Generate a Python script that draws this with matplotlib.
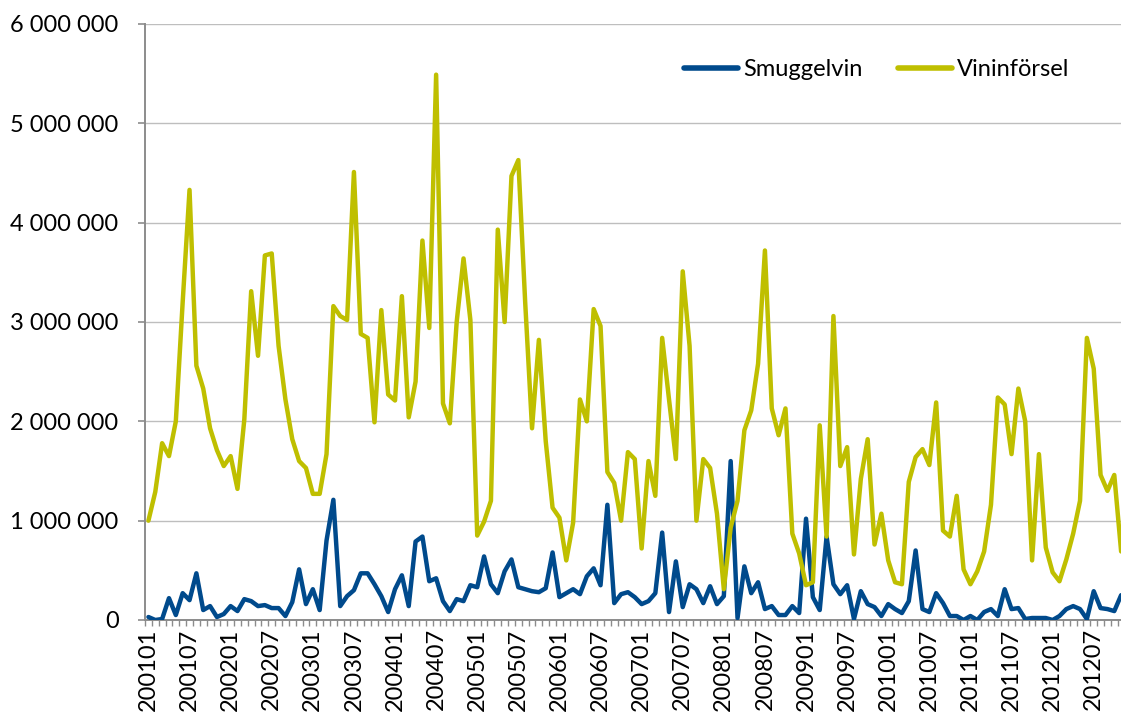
import matplotlib
matplotlib.use("Agg")
import matplotlib.pyplot as plt
from matplotlib.ticker import FuncFormatter, FixedLocator

plt.rcParams['font.family'] = ['Lato', 'DejaVu Sans']

# Monthly periods 200101 .. 201211
months = [f"{y}{m:02d}" for y in range(2001, 2013) for m in range(1, 13)][:143]

# Values in millions (litres)
smuggelvin = [
    0.03, 0.00, 0.01, 0.22, 0.05, 0.27, 0.20, 0.47, 0.10, 0.14, 0.03, 0.06,
    0.14, 0.09, 0.21, 0.19, 0.14, 0.15, 0.12, 0.12, 0.04, 0.18, 0.51, 0.16,
    0.31, 0.10, 0.80, 1.21, 0.14, 0.24, 0.30, 0.47, 0.47, 0.36, 0.24, 0.08,
    0.31, 0.45, 0.14, 0.79, 0.84, 0.39, 0.42, 0.19, 0.09, 0.21, 0.19, 0.35,
    0.33, 0.64, 0.36, 0.27, 0.49, 0.61, 0.33, 0.31, 0.29, 0.28, 0.32, 0.68,
    0.23, 0.27, 0.31, 0.26, 0.44, 0.52, 0.35, 1.16, 0.17, 0.26, 0.28, 0.23,
    0.16, 0.19, 0.27, 0.88, 0.08, 0.59, 0.13, 0.36, 0.31, 0.17, 0.34, 0.16,
    0.24, 1.60, 0.02, 0.54, 0.27, 0.38, 0.11, 0.14, 0.05, 0.05, 0.14, 0.07,
    1.02, 0.23, 0.10, 0.84, 0.36, 0.26, 0.35, 0.01, 0.29, 0.16, 0.13, 0.04,
    0.16, 0.11, 0.07, 0.19, 0.70, 0.11, 0.08, 0.27, 0.17, 0.04, 0.04, 0.00,
    0.04, 0.00, 0.08, 0.11, 0.04, 0.31, 0.11, 0.12, 0.01, 0.02, 0.02, 0.02,
    0.00, 0.04, 0.11, 0.14, 0.11, 0.01, 0.29, 0.12, 0.11, 0.09, 0.25,
]

vininforsel = [
    1.00, 1.29, 1.78, 1.65, 2.00, 3.20, 4.33, 2.56, 2.33, 1.93, 1.71, 1.55,
    1.65, 1.32, 2.02, 3.31, 2.66, 3.67, 3.69, 2.76, 2.22, 1.82, 1.60, 1.53,
    1.27, 1.27, 1.67, 3.16, 3.06, 3.02, 4.51, 2.88, 2.84, 1.99, 3.12, 2.27,
    2.21, 3.26, 2.04, 2.40, 3.82, 2.94, 5.49, 2.18, 1.98, 3.00, 3.64, 3.02,
    0.85, 0.99, 1.20, 3.93, 3.00, 4.47, 4.63, 3.20, 1.93, 2.82, 1.80, 1.13,
    1.03, 0.60, 0.98, 2.22, 2.00, 3.13, 2.96, 1.49, 1.38, 1.00, 1.69, 1.62,
    0.72, 1.60, 1.25, 2.84, 2.22, 1.62, 3.51, 2.76, 1.00, 1.62, 1.53, 1.07,
    0.31, 0.93, 1.20, 1.91, 2.11, 2.58, 3.72, 2.13, 1.86, 2.13, 0.87, 0.67,
    0.35, 0.38, 1.96, 0.84, 3.06, 1.55, 1.74, 0.66, 1.42, 1.82, 0.76, 1.07,
    0.60, 0.38, 0.36, 1.39, 1.64, 1.72, 1.56, 2.19, 0.90, 0.84, 1.25, 0.51,
    0.36, 0.49, 0.69, 1.16, 2.24, 2.17, 1.67, 2.33, 2.00, 0.60, 1.67, 0.73,
    0.48, 0.39, 0.61, 0.87, 1.20, 2.84, 2.53, 1.46, 1.30, 1.46, 0.69,
]

series_names = ["Smuggelvin", "Vininförsel"]
y_ticks = [0, 1e6, 2e6, 3e6, 4e6, 5e6, 6e6]

W, H = 1121, 718
fig = plt.figure(figsize=(W / 100, H / 100), dpi=100)
fig.patch.set_facecolor("white")

left_px, right_px = 145, 145 + 143 * 6.85
bottom_px, top_px = 620, 24
ax = fig.add_axes([left_px / W, 1 - bottom_px / H,
                   (right_px - left_px) / W, (bottom_px - top_px) / H])

x = list(range(len(months)))
blue = "#004A8C"
yellow = "#BFBF00"
ax.plot(x, [v * 1e6 for v in smuggelvin], color=blue, lw=3.2,
        solid_joinstyle="round", solid_capstyle="round", label=series_names[0], zorder=3)
ax.plot(x, [v * 1e6 for v in vininforsel], color=yellow, lw=3.2,
        solid_joinstyle="round", solid_capstyle="round", label=series_names[1], zorder=4)

ax.set_xlim(-0.5, len(months) - 0.5)
ax.set_ylim(0, 6e6)
ax.set_yticks(y_ticks)
ax.yaxis.set_major_formatter(FuncFormatter(lambda v, p: f"{int(round(v)):,}".replace(",", " ")))

label_pos = list(range(0, len(months), 6))
ax.xaxis.set_major_locator(FixedLocator(label_pos))
ax.set_xticklabels([months[i] for i in label_pos], rotation=90)
ax.xaxis.set_minor_locator(FixedLocator([i - 0.5 for i in range(len(months) + 1)]))

axis_gray = "#8C8C8C"
ax.tick_params(axis="x", which="major", length=0, pad=6, labelsize=17, colors="black")
ax.tick_params(axis="x", which="minor", length=4, width=1.0, color=axis_gray)
ax.tick_params(axis="y", which="major", length=5, width=1.2, color=axis_gray,
               pad=14, labelsize=17, labelcolor="black")

for s in ["top", "right"]:
    ax.spines[s].set_visible(False)
for s in ["left", "bottom"]:
    ax.spines[s].set_color(axis_gray)
    ax.spines[s].set_linewidth(1.4)

ax.grid(axis="y", color="#BEBEBE", lw=1.0, zorder=0)
ax.set_axisbelow(True)

leg = fig.legend(loc="center left", bbox_to_anchor=(684 / W, 1 - 70 / H),
                 ncol=2, frameon=False, fontsize=17, handlelength=2.3,
                 handletextpad=0.2, columnspacing=1.5, borderpad=0, borderaxespad=0)
for line in leg.get_lines():
    line.set_linewidth(4)

fig.savefig("out.png", dpi=100)
